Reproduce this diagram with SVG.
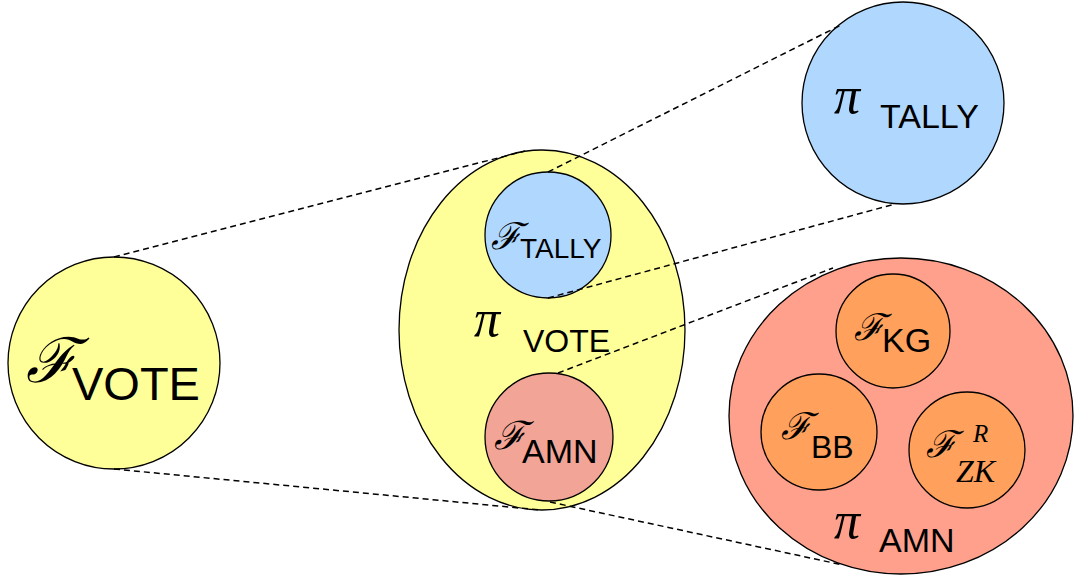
<svg xmlns="http://www.w3.org/2000/svg" width="1075" height="580" viewBox="0 0 1075 580">
  <style>
    .shape { stroke: #000; stroke-width: 1.3; }
    .yellow { fill: #FFFF99; }
    .blue { fill: #B0D8FF; }
    .salmon { fill: #FFA08C; }
    .rose { fill: #F2A596; }
    .orange { fill: #FFA05C; }
    .cal { font-family: "DejaVu Serif", serif; font-style: italic; fill: #000; }
    .pi { font-family: "Liberation Serif", serif; font-style: italic; fill: #000; }
    .sub { font-family: "Liberation Sans", Arial, sans-serif; fill: #000; }
    .math { font-family: "Liberation Serif", serif; font-style: italic; fill: #000; }
    .dash { stroke: #000; stroke-width: 1.5; stroke-dasharray: 6 4; fill: none; }
  </style>

  <g id="f-vote">
    <circle class="shape yellow" cx="114" cy="363" r="106"/>
    <text class="cal" x="26" y="382" font-size="62">ℱ</text>
    <text class="sub" x="72" y="400" font-size="47">VOTE</text>
  </g>

  <g id="pi-vote">
    <ellipse class="shape yellow" cx="542" cy="330" rx="143" ry="180"/>
    <text class="pi" x="474" y="336" font-size="52">π</text>
    <text class="sub" x="523" y="352" font-size="32">VOTE</text>
  </g>

  <g id="f-tally">
    <circle class="shape blue" cx="548" cy="235" r="63"/>
    <text class="cal" x="491" y="249" font-size="37">ℱ</text>
    <text class="sub" x="520" y="258" font-size="28">TALLY</text>
  </g>

  <g id="f-amn">
    <circle class="shape rose" cx="549" cy="437" r="64"/>
    <text class="cal" x="494" y="449" font-size="39">ℱ</text>
    <text class="sub" x="522" y="463" font-size="34">AMN</text>
  </g>

  <g id="pi-tally">
    <circle class="shape blue" cx="903" cy="103" r="101"/>
    <text class="pi" x="834" y="113" font-size="52">π</text>
    <text class="sub" x="880" y="128" font-size="34">TALLY</text>
  </g>

  <g id="pi-amn">
    <ellipse class="shape salmon" cx="901" cy="416" rx="172" ry="158"/>
    <text class="pi" x="834" y="538" font-size="52">π</text>
    <text class="sub" x="879" y="552" font-size="34">AMN</text>
  </g>

  <g id="f-kg">
    <circle class="shape orange" cx="893" cy="331" r="57"/>
    <text class="cal" x="854" y="340" font-size="37">ℱ</text>
    <text class="sub" x="882" y="352" font-size="34">KG</text>
  </g>

  <g id="f-bb">
    <circle class="shape orange" cx="819" cy="432" r="58"/>
    <text class="cal" x="781" y="439" font-size="37">ℱ</text>
    <text class="sub" x="811" y="458" font-size="32">BB</text>
  </g>

  <g id="f-zk">
    <circle class="shape orange" cx="967" cy="450" r="58"/>
    <text class="cal" x="926" y="457" font-size="37">ℱ</text>
    <text class="math" x="973" y="442" font-size="25">R</text>
    <text class="math" x="956" y="482" font-size="32">ZK</text>
  </g>

  <g id="connectors">
    <line class="dash" x1="114" y1="257" x2="525" y2="151"/>
    <line class="dash" x1="114" y1="469" x2="540" y2="510"/>
    <line class="dash" x1="548" y1="172" x2="843" y2="24"/>
    <line class="dash" x1="548" y1="298" x2="895" y2="204"/>
    <line class="dash" x1="558" y1="373" x2="833" y2="268"/>
    <line class="dash" x1="550" y1="502" x2="843" y2="565"/>
  </g>
</svg>
